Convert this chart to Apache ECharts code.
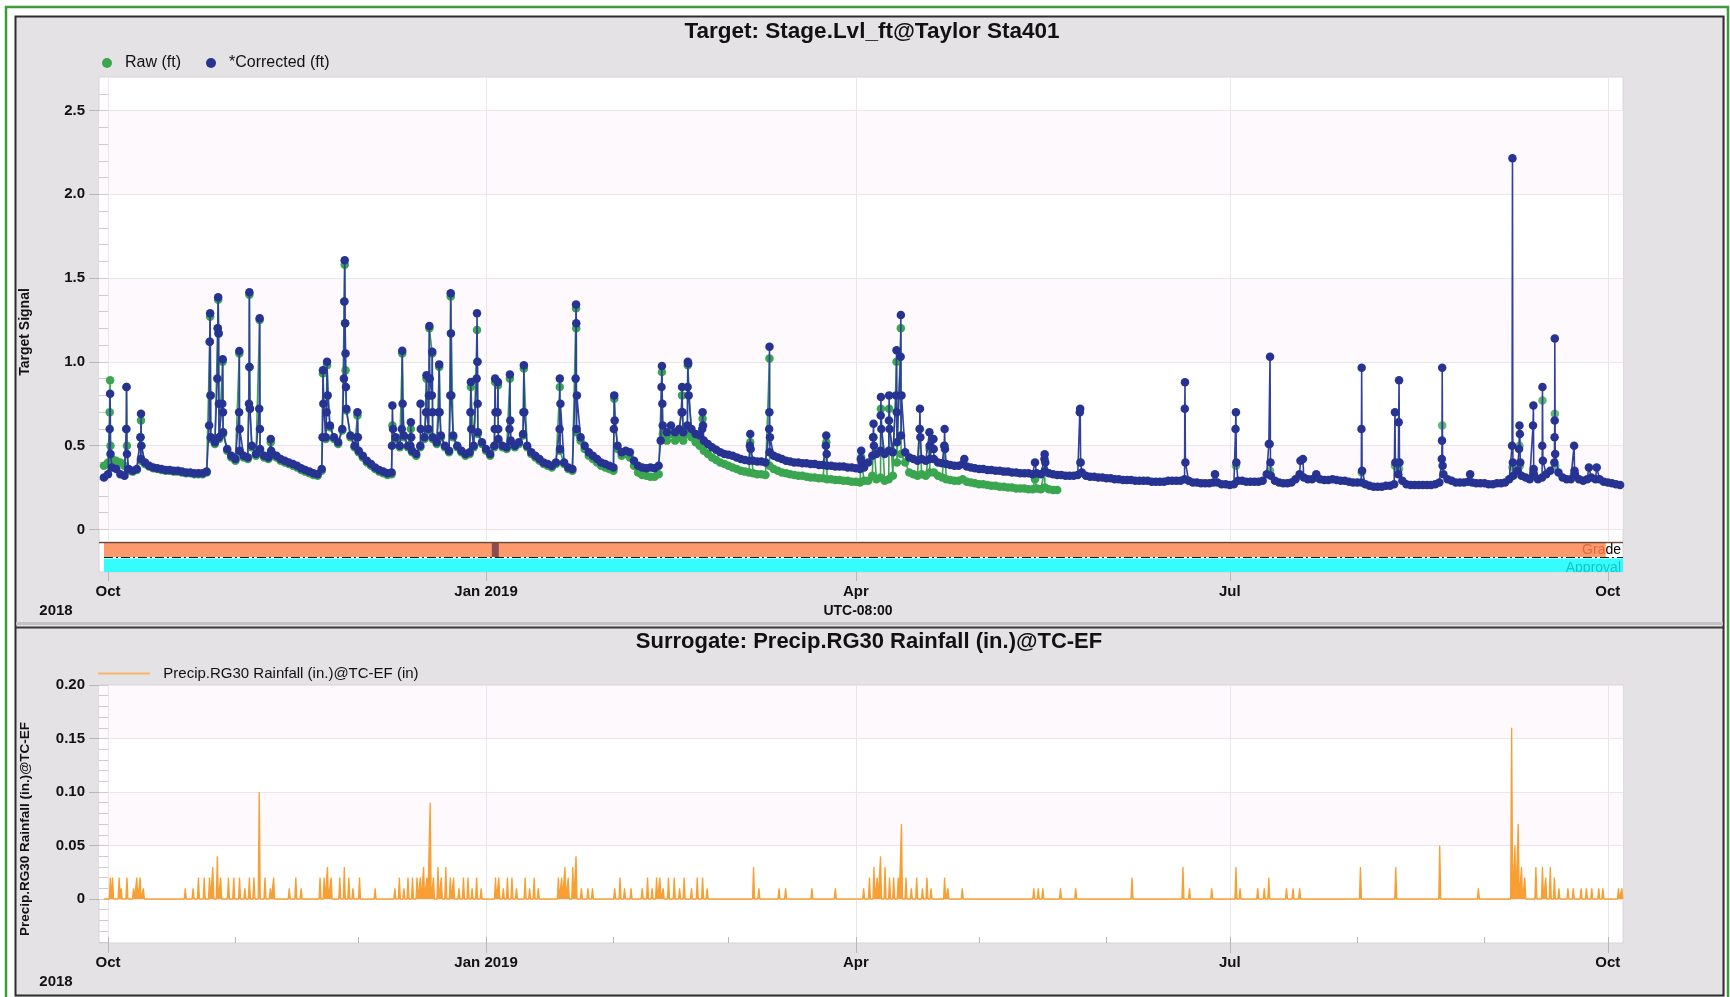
<!DOCTYPE html>
<html>
<head>
<meta charset="utf-8">
<script src="https://cdn.jsdelivr.net/npm/echarts@6/dist/echarts.min.js"></script>
<style>
html,body{margin:0;padding:0;background:#fff;}
#c{width:1730px;height:997px;}
</style>
</head>
<body>
<div id="c"></div>
<script>
// ---------- time frame (x values are days since 2018-10-01) ----------
const START = Date.UTC(2018, 9, 1);
const DAY = 86400000;
const X_MIN = -2.2, X_MAX = 368.7;

// ---------- top chart: Stage (ft) ----------
// daily baseline of *Corrected, first value is day -1 (2018-09-30)
const corrStartDay = -1;
const corrDaily = [
0.31,0.33,0.37,0.36,0.33,0.32,0.36,0.35,0.36,0.42,
0.40,0.38,0.37,0.365,0.36,0.355,0.355,0.35,0.35,0.345,
0.34,0.34,0.335,0.335,0.335,0.345,0.55,0.52,0.55,0.58,
0.48,0.44,0.42,0.47,0.44,0.43,0.50,0.45,0.48,0.44,
0.43,0.45,0.44,0.42,0.41,0.40,0.39,0.38,0.365,0.355,
0.345,0.335,0.33,0.36,0.55,0.62,0.55,0.52,0.60,0.72,
0.56,0.50,0.47,0.44,0.41,0.39,0.37,0.355,0.345,0.335,
0.34,0.55,0.50,0.56,0.50,0.47,0.45,0.50,0.55,0.60,
0.55,0.52,0.56,0.50,0.47,0.56,0.50,0.47,0.45,0.46,
0.50,0.58,0.52,0.48,0.45,0.50,0.54,0.50,0.49,0.53,
0.50,0.52,0.57,0.50,0.46,0.44,0.42,0.40,0.39,0.38,
0.40,0.48,0.40,0.37,0.36,0.60,0.55,0.50,0.46,0.44,
0.42,0.40,0.39,0.38,0.37,0.50,0.46,0.47,0.46,0.41,
0.38,0.37,0.365,0.37,0.365,0.38,0.62,0.58,0.62,0.58,
0.60,0.58,0.62,0.60,0.57,0.56,0.53,0.51,0.49,0.475,
0.46,0.45,0.445,0.44,0.43,0.42,0.415,0.41,0.41,0.405,
0.405,0.40,0.46,0.44,0.43,0.42,0.41,0.405,0.40,0.40,
0.395,0.395,0.39,0.39,0.385,0.385,0.38,0.38,0.375,0.375,
0.375,0.37,0.37,0.365,0.36,0.37,0.40,0.44,0.45,0.47,
0.45,0.47,0.46,0.52,0.56,0.46,0.43,0.42,0.41,0.42,
0.41,0.42,0.42,0.40,0.395,0.39,0.385,0.38,0.38,0.39,
0.375,0.37,0.365,0.36,0.36,0.355,0.355,0.35,0.35,0.345,
0.345,0.34,0.34,0.335,0.335,0.335,0.33,0.335,0.33,0.345,
0.335,0.33,0.325,0.325,0.32,0.32,0.32,0.325,0.34,0.32,
0.315,0.315,0.31,0.31,0.305,0.305,0.30,0.30,0.295,0.295,
0.295,0.29,0.29,0.29,0.29,0.285,0.285,0.285,0.285,0.29,
0.29,0.29,0.29,0.30,0.29,0.28,0.28,0.275,0.275,0.275,
0.28,0.28,0.27,0.27,0.265,0.27,0.29,0.29,0.285,0.285,
0.285,0.285,0.29,0.33,0.32,0.29,0.28,0.275,0.275,0.28,
0.30,0.33,0.31,0.30,0.30,0.31,0.30,0.295,0.295,0.30,
0.295,0.29,0.29,0.285,0.28,0.28,0.28,0.27,0.26,0.255,
0.255,0.255,0.26,0.26,0.27,0.33,0.29,0.27,0.265,0.265,
0.265,0.265,0.265,0.265,0.27,0.28,0.33,0.30,0.29,0.28,
0.28,0.28,0.285,0.28,0.275,0.275,0.275,0.27,0.27,0.275,
0.275,0.28,0.30,0.32,0.35,0.32,0.31,0.30,0.33,0.30,
0.31,0.33,0.35,0.40,0.34,0.31,0.30,0.30,0.33,0.30,
0.29,0.30,0.31,0.30,0.30,0.285,0.28,0.275,0.27,0.265
];
// storm readings of *Corrected: [day, ft]
const corrSpikes = [
[0.4,0.6],[0.5,0.81],[0.6,0.45],
[4.45,0.6],[4.5,0.85],[4.6,0.45],
[7.9,0.55],[8.02,0.69],[8.1,0.5],
[24.6,0.62],[24.75,1.12],[24.85,1.29],[24.95,0.8],
[26.6,0.9],[26.7,1.2],[26.8,1.385],[26.9,1.17],[26.97,0.75],
[27.8,0.75],[27.9,1.015],[27.97,0.7],
[31.9,0.7],[31.95,1.065],[32.05,0.6],
[34.3,0.75],[34.4,1.415],[34.45,0.97],[34.55,0.72],
[36.8,0.72],[36.9,1.26],[36.97,0.6],
[39.5,0.45],[39.6,0.54],[39.7,0.47],
[52.2,0.55],[52.3,0.95],[52.4,0.75],
[53.2,0.7],[53.3,1.0],[53.45,0.8],
[57.4,0.9],[57.5,1.36],[57.6,1.607],[57.7,1.23],[57.8,1.05],[57.9,0.85],
[60.6,0.55],[60.7,0.70],[60.8,0.55],
[69.1,0.5],[69.2,0.74],[69.35,0.6],
[71.5,0.6],[71.6,1.066],[71.7,0.75],
[73.6,0.5],[73.7,0.64],[73.8,0.55],
[76.05,0.75],[76.1,0.6],
[77.4,0.7],[77.5,0.92],[77.6,0.7],
[78.1,0.8],[78.2,1.214],[78.3,0.9],[78.8,0.8],[78.9,1.06],[78.97,0.7],
[80.5,0.7],[80.6,0.985],[80.7,0.7],
[83.3,0.8],[83.4,1.409],[83.45,1.17],[83.55,0.8],
[88.2,0.7],[88.3,0.88],[88.4,0.6],
[89.7,0.9],[89.8,1.29],[89.9,1.0],[89.95,0.75],
[94.1,0.6],[94.2,0.90],[94.3,0.7],
[94.8,0.7],[94.9,0.88],[94.97,0.6],
[97.7,0.6],[97.8,0.925],[97.9,0.65],
[101.1,0.7],[101.2,0.98],[101.3,0.7],
[109.9,0.6],[109.95,0.90],[110.1,0.75],
[113.8,0.9],[113.9,1.343],[113.95,1.23],[114.1,0.8],
[123.1,0.6],[123.2,0.80],[123.3,0.65],
[134.5,0.53],[134.7,0.85],[134.8,0.975],[134.9,0.75],
[139.6,0.7],[139.7,0.85],[139.8,0.7],
[141.05,0.85],[141.1,1.0],[141.2,0.99],[141.3,0.8],
[144.6,0.6],[144.7,0.70],[144.8,0.62],
[156.2,0.5],[156.3,0.57],[156.4,0.48],
[160.9,0.6],[160.95,0.7],[160.98,1.09],[161.1,0.55],
[174.7,0.5],[174.8,0.56],[174.9,0.45],
[183.2,0.42],[183.3,0.47],[183.4,0.4],
[186.2,0.55],[186.3,0.63],[186.4,0.5],
[188.05,0.68],[188.1,0.79],[188.2,0.6],
[190.05,0.65],[190.1,0.80],[190.2,0.6],
[191.8,0.8],[191.9,1.07],[191.95,0.7],
[192.9,1.03],[192.95,1.28],[193.1,0.8],
[197.5,0.6],[197.6,0.72],[197.7,0.55],
[199.9,0.58],[199.95,0.5],
[200.9,0.54],[200.95,0.48],
[203.5,0.5],[203.6,0.60],[203.7,0.48],
[208.4,0.42],
[225.6,0.40],
[227.9,0.42],[227.95,0.448],[228.1,0.4],
[236.5,0.70],[236.6,0.72],[236.7,0.4],
[262.05,0.72],[262.1,0.878],[262.2,0.4],
[269.4,0.33],
[274.4,0.6],[274.5,0.70],[274.6,0.4],
[282.5,0.51],[282.7,0.51],[282.8,1.03],[282.9,0.4],
[290.2,0.41],[290.8,0.42],
[294.05,0.33],
[305.05,0.6],[305.1,0.965],[305.2,0.35],
[313.2,0.70],[313.3,0.4],[314.1,0.64],[314.2,0.89],[314.3,0.4],
[324.6,0.42],[324.65,0.53],[324.7,0.965],[324.8,0.38],
[331.5,0.33],
[341.7,0.5],[341.8,2.215],[341.9,0.4],
[343.4,0.48],[343.5,0.62],[343.6,0.57],[343.7,0.4],
[346.8,0.62],[346.9,0.74],[346.97,0.36],
[349.05,0.5],[349.1,0.85],[349.2,0.41],
[352.05,0.55],[352.08,0.65],[352.1,1.14],[352.2,0.45],
[356.8,0.50],[356.9,0.35],
[360.4,0.37],[362.3,0.37]
];
// daily baseline of Raw, first value is day -1; Raw record ends 2019-05-20
const rawStartDay = -1;
const rawDaily = [
0.38,0.40,0.42,0.41,0.40,0.38,0.35,0.345,0.355,0.41,
0.39,0.375,0.365,0.36,0.355,0.35,0.35,0.345,0.345,0.34,
0.335,0.335,0.33,0.33,0.33,0.34,0.54,0.51,0.54,0.57,
0.47,0.43,0.41,0.46,0.43,0.42,0.49,0.44,0.47,0.43,
0.42,0.44,0.43,0.41,0.40,0.39,0.38,0.37,0.355,0.345,
0.335,0.325,0.32,0.35,0.54,0.61,0.54,0.51,0.59,0.71,
0.55,0.49,0.46,0.43,0.40,0.38,0.36,0.345,0.335,0.325,
0.33,0.54,0.49,0.55,0.49,0.46,0.44,0.49,0.54,0.59,
0.54,0.51,0.55,0.49,0.46,0.55,0.49,0.46,0.44,0.45,
0.49,0.57,0.51,0.47,0.44,0.49,0.53,0.49,0.48,0.52,
0.49,0.51,0.56,0.49,0.45,0.43,0.41,0.39,0.38,0.37,
0.39,0.47,0.39,0.36,0.35,0.58,0.53,0.48,0.44,0.42,
0.40,0.38,0.37,0.36,0.35,0.48,0.44,0.45,0.43,0.38,
0.34,0.325,0.32,0.315,0.315,0.33,0.57,0.53,0.57,0.53,
0.55,0.53,0.57,0.55,0.52,0.50,0.47,0.45,0.43,0.415,
0.40,0.39,0.38,0.37,0.36,0.35,0.345,0.34,0.335,0.33,
0.33,0.325,0.38,0.36,0.35,0.34,0.335,0.33,0.325,0.32,
0.32,0.315,0.31,0.31,0.305,0.305,0.30,0.30,0.295,0.295,
0.29,0.29,0.285,0.285,0.28,0.29,0.29,0.32,0.30,0.31,
0.29,0.30,0.32,0.40,0.45,0.40,0.34,0.33,0.32,0.33,
0.32,0.34,0.34,0.32,0.31,0.30,0.295,0.29,0.29,0.30,
0.285,0.28,0.275,0.27,0.27,0.265,0.26,0.26,0.255,0.255,
0.25,0.25,0.245,0.245,0.245,0.24,0.24,0.245,0.24,0.25,
0.24,0.235,0.235
];
const rawSpikes = [
[0.4,0.7],[0.5,0.89],[0.6,0.5],
[4.45,0.6],[4.5,0.85],[4.6,0.5],
[7.9,0.55],[8.02,0.65],[8.1,0.5],
[24.75,1.12],[24.85,1.27],[24.95,0.8],
[26.7,1.2],[26.8,1.37],[26.9,1.17],
[27.9,1.0],[31.95,1.05],
[34.35,0.97],[34.4,1.40],[34.5,0.72],
[36.9,1.25],[39.6,0.52],
[52.3,0.93],[53.3,0.98],
[57.5,1.36],[57.6,1.58],[57.7,1.23],[57.8,0.95],
[60.7,0.68],[69.2,0.62],[71.6,1.05],[73.7,0.6],
[77.5,0.9],[78.2,1.2],[78.9,1.05],[80.6,0.97],[83.4,1.39],
[88.3,0.85],[89.8,1.19],[89.9,1.0],
[94.2,0.88],[94.9,0.86],[97.8,0.9],[101.2,0.96],
[109.95,0.85],[113.9,1.32],[113.95,1.2],[123.2,0.78],
[134.8,0.94],[139.7,0.8],[141.1,0.98],[144.7,0.66],[156.3,0.52],
[160.98,1.02],[174.8,0.52],[183.3,0.43],
[186.3,0.55],[188.1,0.72],[190.1,0.72],[191.9,1.0],[192.95,1.2],
[197.6,0.6],[199.95,0.48],[203.6,0.5],[225.6,0.30],[227.95,0.35]
];
// isolated Raw readings visible after 2019-05-20
const rawLate = [
[236.6,0.40],[274.5,0.38],[282.8,0.35],[305.1,0.34],[313.2,0.38],[314.2,0.36],
[324.7,0.62],[341.8,0.37],[343.5,0.50],[343.6,0.38],[346.9,0.34],[349.1,0.77],
[352.1,0.69],[352.2,0.38],[356.8,0.33]
];

// ---------- grade / approval strips: [startDay, endDay] ----------
const gradeSpans = [[-1, 364.5]];
const gradeFlags = [[93.4, 95.1]];
const approvalSpans = [[-1, 368.7]];

// ---------- bottom chart: rainfall events [day, inches] ----------
const precipEvents = [
[0.56,0.02],[1.1,0.02],[2.7,0.02],[3.2,0.01],[4.6,0.02],[6.2,0.01],[7.0,0.02],[7.8,0.02],[8.6,0.01],
[18.8,0.01],[20.7,0.01],[22.0,0.02],[23.4,0.02],[24.7,0.02],[25.5,0.03],[26.6,0.04],[27.4,0.02],
[29.3,0.02],[30.6,0.02],[32.0,0.02],[33.3,0.01],[34.4,0.02],[35.5,0.02],[36.8,0.10],[38.2,0.02],
[39.5,0.01],[40.3,0.02],[44.1,0.01],[45.7,0.02],[47.0,0.01],
[51.6,0.02],[52.6,0.02],[53.4,0.03],[54.3,0.02],[56.4,0.02],[57.5,0.03],[58.6,0.02],[59.6,0.01],
[61.2,0.02],[65.0,0.01],
[69.8,0.01],[70.9,0.02],[72.0,0.01],[73.0,0.02],[74.1,0.02],[75.2,0.02],[76.0,0.02],[76.8,0.03],
[77.6,0.02],[78.4,0.09],[79.2,0.02],[80.3,0.03],[81.1,0.02],[82.2,0.03],[83.3,0.02],[84.1,0.02],
[85.4,0.01],[86.5,0.02],[87.6,0.02],[88.6,0.01],[89.7,0.02],[90.8,0.01],
[94.3,0.02],[95.1,0.02],[96.2,0.01],[97.2,0.02],[98.3,0.02],[99.4,0.01],[101.5,0.02],[102.6,0.01],
[103.7,0.02],[104.7,0.01],
[109.6,0.02],[110.4,0.02],[111.2,0.03],[112.0,0.02],[113.1,0.03],[113.9,0.04],[115.2,0.01],
[116.8,0.01],[117.9,0.01],
[123.3,0.01],[124.6,0.02],[125.7,0.01],[127.3,0.01],[130.0,0.01],[131.3,0.02],[132.4,0.01],
[133.5,0.02],[134.3,0.02],[135.1,0.01],[136.4,0.02],[137.8,0.02],[139.1,0.01],[140.2,0.02],
[142.0,0.01],[143.4,0.02],[144.7,0.02],[145.8,0.01],
[157.1,0.03],[158.4,0.01],[163.3,0.01],[164.9,0.01],[171.3,0.01],[177.0,0.01],
[183.9,0.01],[185.3,0.02],[186.4,0.03],[187.2,0.02],[188.0,0.04],[189.1,0.03],[190.2,0.02],
[191.2,0.02],[192.3,0.02],[193.1,0.07],[194.2,0.02],[195.5,0.01],[196.8,0.02],[198.2,0.01],
[199.3,0.02],[200.3,0.01],[203.6,0.02],[204.4,0.01],[207.9,0.01],
[225.3,0.01],[226.4,0.01],[227.5,0.01],[231.8,0.01],[235.5,0.01],[249.2,0.02],
[261.6,0.03],[263.2,0.01],[268.6,0.01],[274.5,0.03],[275.5,0.01],[279.8,0.01],[281.4,0.01],
[282.5,0.02],[286.8,0.01],[288.4,0.01],[290.0,0.01],
[304.8,0.03],[313.4,0.03],[324.1,0.05],[333.5,0.01],
[341.6,0.16],[342.4,0.05],[343.2,0.07],[344.0,0.03],[344.8,0.02],[347.5,0.03],[349.1,0.03],
[349.9,0.02],[351.0,0.03],[352.0,0.02],[353.1,0.01],[355.3,0.01],[356.6,0.01],[358.5,0.01],
[359.8,0.01],[361.1,0.01],[362.8,0.01],[363.8,0.01],[367.6,0.01],[368.4,0.01]
];
const precipStartDay = -1, precipEndDay = 368.7;

// ---------- axis ticks ----------
const quarterDates = ['2018-10-01','2019-01-01','2019-04-01','2019-07-01','2019-10-01'];
const monthDates = ['2018-10-01','2018-11-01','2018-12-01','2019-01-01','2019-02-01','2019-03-01',
  '2019-04-01','2019-05-01','2019-06-01','2019-07-01','2019-08-01','2019-09-01','2019-10-01'];
const monthNames = ['Jan','Feb','Mar','Apr','May','Jun','Jul','Aug','Sep','Oct','Nov','Dec'];
const topYLabels = [0, 0.5, 1.0, 1.5, 2.0, 2.5];
const topYMinor = [0,0.1,0.2,0.3,0.4,0.5,0.6,0.7,0.8,0.9,1.0,1.1,1.2,1.3,1.4,1.5,1.6,1.7,1.8,1.9,2.0,2.1,2.2,2.3,2.4,2.5,2.6];
const botYLabels = [0, 0.05, 0.10, 0.15, 0.20];
const botYMinor = [-0.04,-0.03,-0.02,-0.01,0,0.01,0.02,0.03,0.04,0.05,0.06,0.07,0.08,0.09,0.10,
  0.11,0.12,0.13,0.14,0.15,0.16,0.17,0.18,0.19,0.20];

// ---------- helpers ----------
const toDay = s => (Date.parse(s + 'T00:00:00Z') - START) / DAY;
const quarterDays = quarterDates.map(toDay);
const monthDays = monthDates.map(toDay);
function merge(daily, startDay, spikes) {
  const pts = daily.map((v, i) => [startDay + i, v]);
  return pts.concat(spikes).sort((a, b) => a[0] - b[0]);
}
const corrData = merge(corrDaily, corrStartDay, corrSpikes);
const rawData = merge(rawDaily, rawStartDay, rawSpikes);
const precipData = [[precipStartDay, 0]];
precipEvents.forEach(([d, v]) => { precipData.push([d - 0.25, 0], [d, v], [d + 0.25, 0]); });
precipData.push([precipEndDay, 0]);

const FONT = '"Liberation Sans", Arial, sans-serif';
const xLabelFmt = v => {
  const d = new Date(START + Math.round(v) * DAY);
  const m = d.getUTCMonth();
  return m === 0 ? monthNames[m] + ' ' + d.getUTCFullYear() : monthNames[m];
};
const GREEN = '#3aa64f', BLUE = '#263392', ORANGE = '#f89f33';

const bandData = []
  .concat(gradeSpans.map(s => ({ value: [s[0], s[1], 1], kind: 'grade' })))
  .concat(gradeFlags.map(s => ({ value: [s[0], s[1], 1], kind: 'flag' })))
  .concat(approvalSpans.map(s => ({ value: [s[0], s[1], 0], kind: 'approval' })));

function renderBand(params, api) {
  const row = api.value(2);
  const s = api.coord([api.value(0), row]);
  const e = api.coord([api.value(1), row]);
  const h = api.size([0, 1])[1];
  const top = s[1] - h / 2;
  const kind = bandData[params.dataIndex].kind;
  const ch = [];
  if (kind === 'grade') {
    ch.push({ type: 'rect', shape: { x: s[0], y: top + 1, width: e[0] - s[0], height: h - 1 }, style: { fill: '#fd9a6b' } });
  } else if (kind === 'flag') {
    ch.push({ type: 'rect', shape: { x: s[0], y: top + 1, width: e[0] - s[0], height: h - 1 }, style: { fill: '#8a4d4f' } });
  } else {
    const gTop = top - h;
    ch.push({ type: 'rect', shape: { x: s[0], y: top + 1.5, width: e[0] - s[0], height: h - 1.5 }, style: { fill: '#35fdfd' } });
    ch.push({ type: 'line', shape: { x1: s[0], y1: top + 0.5, x2: e[0], y2: top + 0.5 }, style: { stroke: '#1e1e1e', lineWidth: 1.2, lineDash: [9, 3, 2, 3] } });
    ch.push({ type: 'line', shape: { x1: s[0] - 5, y1: gTop + 0.5, x2: e[0], y2: gTop + 0.5 }, style: { stroke: '#6b4a3c', lineWidth: 1.5 } });
    ch.push({ type: 'text', x: e[0] - 2, y: s[1] + 4, style: { text: 'Approval', align: 'right', verticalAlign: 'middle', fill: '#19c2c4', font: '14px ' + FONT } });
    ch.push({ type: 'text', x: e[0] - 2, y: gTop + h / 2 + 1, style: {
      text: '{a|Gra}{b|de}', align: 'right', verticalAlign: 'middle', font: '14px ' + FONT,
      rich: { a: { fill: '#e2683f', font: '14px ' + FONT }, b: { fill: '#000', font: '14px ' + FONT } } } });
  }
  return { type: 'group', children: ch };
}

const axisLabelStyle = { color: '#111', fontWeight: 'bold', fontSize: 15, fontFamily: FONT };
const tickGray = '#b9b6b9';
const splitCol = '#ece6ec';
const noLine = { show: false, onZero: false };

const chart = echarts.init(document.getElementById('c'), null, { renderer: 'canvas' });
const option = {
  animation: false,
  backgroundColor: '#e5e2e5',
  grid: [
    { left: 99, top: 77, width: 1524, height: 465, show: true, backgroundColor: '#ffffff', borderColor: '#d6d3d6', borderWidth: 1 },
    { left: 99, top: 542, width: 1524, height: 30, show: true, backgroundColor: '#ffffff', borderColor: '#d6d3d6', borderWidth: 1 },
    { left: 99, top: 685, width: 1524, height: 258, show: true, backgroundColor: '#ffffff', borderColor: '#d6d3d6', borderWidth: 1 }
  ],
  xAxis: [
    { gridIndex: 0, type: 'value', min: X_MIN, max: X_MAX, position: 'bottom', axisLine: noLine,
      axisTick: { show: false, customValues: quarterDays }, axisLabel: { show: false },
      splitLine: { show: true, lineStyle: { color: splitCol, width: 1 } } },
    { gridIndex: 1, type: 'value', min: X_MIN, max: X_MAX, position: 'bottom', axisLine: noLine,
      axisTick: { show: true, customValues: quarterDays, length: 9, lineStyle: { color: tickGray } },
      axisLabel: Object.assign({ customValues: quarterDays, formatter: xLabelFmt, margin: 12 }, axisLabelStyle),
      splitLine: { show: false } },
    { gridIndex: 1, type: 'value', min: X_MIN, max: X_MAX, position: 'bottom', axisLine: noLine,
      axisTick: { show: true, inside: true, customValues: monthDays, length: 13, lineStyle: { color: 'rgba(0,110,110,0.18)' } },
      axisLabel: { show: false }, splitLine: { show: false } },
    { gridIndex: 2, type: 'value', min: X_MIN, max: X_MAX, position: 'bottom', axisLine: noLine,
      axisTick: { show: true, customValues: quarterDays, length: 10, lineStyle: { color: tickGray } },
      axisLabel: Object.assign({ customValues: quarterDays, formatter: xLabelFmt, margin: 12 }, axisLabelStyle),
      splitLine: { show: true, lineStyle: { color: splitCol, width: 1 } } },
    { gridIndex: 2, type: 'value', min: X_MIN, max: X_MAX, position: 'bottom', axisLine: noLine,
      axisTick: { show: true, inside: true, customValues: monthDays, length: 6, lineStyle: { color: tickGray } },
      axisLabel: { show: false }, splitLine: { show: false } }
  ],
  yAxis: [
    { gridIndex: 0, type: 'value', min: -0.075, max: 2.7, position: 'left', axisLine: noLine,
      axisTick: { show: true, customValues: topYLabels, length: 10, lineStyle: { color: tickGray } },
      axisLabel: Object.assign({ customValues: topYLabels, margin: 14, formatter: v => v === 0 ? '0' : v.toFixed(1) }, axisLabelStyle),
      splitLine: { show: true, lineStyle: { color: splitCol } },
      splitArea: { show: true, areaStyle: { color: ['#fdf9fd', '#ffffff'] } } },
    { gridIndex: 0, type: 'value', min: -0.075, max: 2.7, position: 'left', offset: 0, axisLine: noLine,
      axisTick: { show: true, inside: true, customValues: topYMinor, length: 9, lineStyle: { color: '#cfcccf' } },
      axisLabel: { show: false }, splitLine: { show: false } },
    { gridIndex: 1, type: 'category', data: ['Approval', 'Grade'], show: false, axisLine: noLine },
    { gridIndex: 2, type: 'value', min: -0.0411, max: 0.2, position: 'left', axisLine: noLine,
      axisTick: { show: true, customValues: botYLabels, length: 10, lineStyle: { color: tickGray } },
      axisLabel: Object.assign({ customValues: botYLabels, margin: 14, formatter: v => v === 0 ? '0' : v.toFixed(2) }, axisLabelStyle),
      splitLine: { show: true, lineStyle: { color: splitCol } },
      splitArea: { show: true, areaStyle: { color: ['#ffffff', '#fdf9fd'] } } },
    { gridIndex: 2, type: 'value', min: -0.0411, max: 0.2, position: 'left', offset: 0, axisLine: noLine,
      axisTick: { show: true, inside: true, customValues: botYMinor, length: 9, lineStyle: { color: '#cfcccf' } },
      axisLabel: { show: false }, splitLine: { show: false } }
  ],
  legend: [
    { left: 97, top: 50, selectedMode: false, icon: 'circle', itemWidth: 26, itemHeight: 10, itemGap: 25,
      data: ['Raw (ft)', '*Corrected (ft)'],
      textStyle: { color: '#111', fontSize: 16, fontFamily: FONT } },
    { left: 93, top: 661, selectedMode: false, itemWidth: 52, itemHeight: 2,
      data: [{ name: 'Precip.RG30 Rainfall (in.)@TC-EF (in)', icon: 'rect', itemStyle: { color: '#f9b46a' } }],
      formatter: '  {name}',
      textStyle: { color: '#111', fontSize: 15, fontFamily: FONT } }
  ],
  series: [
    { name: 'Raw (ft)', type: 'line', xAxisIndex: 0, yAxisIndex: 0, data: rawData,
      symbol: 'circle', symbolSize: 8.5, showSymbol: true, color: GREEN,
      itemStyle: { color: GREEN }, lineStyle: { color: GREEN, width: 1.6 }, z: 3, silent: true },
    { name: 'Raw (ft)', type: 'scatter', xAxisIndex: 0, yAxisIndex: 0, data: rawLate,
      symbol: 'circle', symbolSize: 8.5, itemStyle: { color: GREEN }, z: 3, silent: true },
    { name: '*Corrected (ft)', type: 'line', xAxisIndex: 0, yAxisIndex: 0, data: corrData,
      symbol: 'circle', symbolSize: 8.5, showSymbol: true, color: BLUE,
      itemStyle: { color: BLUE }, lineStyle: { color: '#31409f', width: 1.6 }, z: 4, silent: true },
    { name: 'bands', type: 'custom', xAxisIndex: 1, yAxisIndex: 2, data: bandData,
      renderItem: renderBand, clip: true, silent: true, encode: { x: [0, 1], y: 2 } },
    { name: 'Precip.RG30 Rainfall (in.)@TC-EF (in)', type: 'line', xAxisIndex: 3, yAxisIndex: 3,
      data: precipData, symbol: 'none', showSymbol: false, color: ORANGE,
      lineStyle: { color: ORANGE, width: 1.3 }, areaStyle: { color: ORANGE, opacity: 1 }, silent: true }
  ],
  graphic: [
    { type: 'rect', z: 100, shape: { x: 0, y: 0, width: 15, height: 997 }, style: { fill: '#ffffff' } },
    { type: 'rect', z: 100, shape: { x: 0, y: 0, width: 1730, height: 16 }, style: { fill: '#ffffff' } },
    { type: 'rect', z: 100, shape: { x: 1725, y: 0, width: 5, height: 997 }, style: { fill: '#ffffff' } },
    { type: 'rect', z: 101, shape: { x: 6, y: 7, width: 1722, height: 1010 }, style: { fill: 'none', stroke: '#3f9a3c', lineWidth: 2.5 } },
    { type: 'rect', z: 101, shape: { x: 15.5, y: 16.5, width: 1708, height: 979 }, style: { fill: 'none', stroke: '#2e2e2e', lineWidth: 2 } },
    { type: 'rect', z: 101, shape: { x: 16, y: 622, width: 1707, height: 3 }, style: { fill: '#c4c1c4' } },
    { type: 'line', z: 101, shape: { x1: 16, y1: 627.5, x2: 1723, y2: 627.5 }, style: { stroke: '#3a3a3a', lineWidth: 2 } },
    { type: 'text', z: 102, x: 872, y: 32, style: { text: 'Target: Stage.Lvl_ft@Taylor Sta401', font: 'bold 22.5px ' + FONT, fill: '#111', textAlign: 'center', textVerticalAlign: 'middle' } },
    { type: 'text', z: 102, x: 869, y: 642, style: { text: 'Surrogate: Precip.RG30 Rainfall (in.)@TC-EF', font: 'bold 22px ' + FONT, fill: '#111', textAlign: 'center', textVerticalAlign: 'middle' } },
    { type: 'text', z: 102, x: 25, y: 332, rotation: Math.PI / 2, style: { text: 'Target Signal', font: 'bold 14px ' + FONT, fill: '#111', textAlign: 'center', textVerticalAlign: 'middle' } },
    { type: 'text', z: 102, x: 25, y: 829, rotation: Math.PI / 2, style: { text: 'Precip.RG30 Rainfall (in.)@TC-EF', font: 'bold 13.5px ' + FONT, fill: '#111', textAlign: 'center', textVerticalAlign: 'middle' } },
    { type: 'text', z: 102, x: 56, y: 611, style: { text: '2018', font: 'bold 15px ' + FONT, fill: '#111', textAlign: 'center', textVerticalAlign: 'middle' } },
    { type: 'text', z: 102, x: 858, y: 611, style: { text: 'UTC-08:00', font: 'bold 14px ' + FONT, fill: '#111', textAlign: 'center', textVerticalAlign: 'middle' } },
    { type: 'text', z: 102, x: 56, y: 982, style: { text: '2018', font: 'bold 15px ' + FONT, fill: '#111', textAlign: 'center', textVerticalAlign: 'middle' } }
  ]
};
chart.setOption(option);
</script>
</body>
</html>
